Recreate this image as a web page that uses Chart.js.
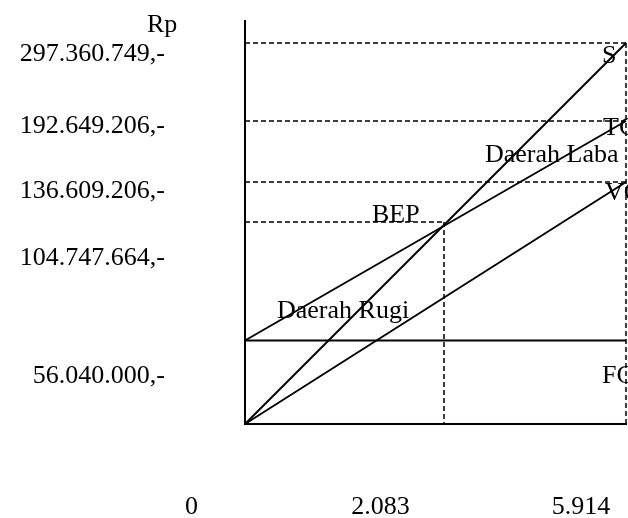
<!DOCTYPE html>
<html lang="id">
<head>
<meta charset="UTF-8">
<title>Grafik BEP</title>
<script src="https://cdn.jsdelivr.net/npm/chart.js"></script>
<style>
    body { margin: 0; background: #fff; }
    canvas { display: block; }
</style>
</head>
<body>
<canvas id="bep" width="628" height="518"></canvas>
<script>
// values
const units = [0, 2083, 5914];                 // origin, BEP units, capacity
const sales = [0, 297360749];                  // S at 0 and at 5914 units
const totalCost = [56040000, 192649206];       // TC
const variableCost = [0, 136609206];           // VC
const fixedCost = [56040000, 56040000];        // FC
const bepValue = 104747664;
const yTickValues = [56040000, 104747664, 136609206, 192649206, 297360749];
const yTickLabels = ['56.040.000,-', '104.747.664,-', '136.609.206,-', '192.649.206,-', '297.360.749,-'];
const xTickLabels = ['0', '2.083', '5.914'];

// the drawing is schematic, not to scale: each value sits at its own spot on the axis
const breaks = {
    x: units,
    y: [0].concat(yTickValues),
    xLab: units,
    yLab: yTickValues
};
const stops = {
    x: [0, 0.5223, 1],
    y: [0, 0.2072, 0.5012, 0.6005, 0.7519, 0.9454],
    xLab: [-0.1404, 0.3556, 0.8819],
    yLab: [0.1186, 0.4122, 0.5777, 0.7390, 0.9169]
};

function interp(v, from, to) {
    let i = 1;
    while (i < from.length - 1 && v > from[i]) i++;
    return to[i - 1] + (v - from[i - 1]) * (to[i] - to[i - 1]) / (from[i] - from[i - 1]);
}

class PiecewiseScale extends Chart.LinearScale {
    getPixelForValue(value) {
        return this.getPixelForDecimal(interp(value, breaks[this.id], stops[this.id]));
    }
    getValueForPixel(pixel) {
        return interp(this.getDecimalForPixel(pixel), stops[this.id], breaks[this.id]);
    }
}
PiecewiseScale.id = 'piecewise';
PiecewiseScale.defaults = Chart.LinearScale.defaults;
Chart.register(PiecewiseScale);

const font = { family: '"Liberation Serif", "Times New Roman", serif', size: 26 };

function seg(x0, y0, x1, y1) {
    return [{ x: x0, y: y0 }, { x: x1, y: y1 }];
}
function solid(label, data) {
    return { label, data, borderColor: '#000', borderWidth: 1.9, pointRadius: 0, fill: false, clip: false };
}
function dashed(data) {
    return { label: '', data, borderColor: '#000', borderWidth: 1.5, borderDash: [5, 3], pointRadius: 0, fill: false, clip: false };
}

const datasets = [
    solid('S', seg(units[0], sales[0], units[2], sales[1])),
    solid('TC', seg(units[0], totalCost[0], units[2], totalCost[1])),
    solid('VC', seg(units[0], variableCost[0], units[2], variableCost[1])),
    solid('FC', seg(units[0], fixedCost[0], units[2], fixedCost[1])),
    dashed(seg(units[0], sales[1], units[2], sales[1])),
    dashed(seg(units[0], totalCost[1], units[2], totalCost[1])),
    dashed(seg(units[0], variableCost[1], units[2], variableCost[1])),
    dashed(seg(units[0], bepValue, units[1], bepValue)),
    dashed(seg(units[1], bepValue, units[1], 0)),
    dashed(seg(units[2], sales[1], units[2], 0))
];

// free text on the drawing
const notes = [
    ['Rp', 147, 32],
    ['S', 602, 63],
    ['TC', 603, 135],
    ['Daerah Laba', 485, 162],
    ['VC', 605, 200],
    ['BEP', 372, 222],
    ['Daerah Rugi', 277, 318],
    ['FC', 602, 383]
];
const notesPlugin = {
    id: 'notes',
    afterDatasetsDraw(chart) {
        const ctx = chart.ctx;
        ctx.save();
        ctx.font = '26px "Liberation Serif"';
        ctx.fillStyle = '#000';
        ctx.textAlign = 'left';
        ctx.textBaseline = 'alphabetic';
        notes.forEach(([t, x, y]) => ctx.fillText(t, x, y));
        ctx.restore();
    }
};

const hidden = { display: false, drawTicks: false };

function draw() {
    new Chart(document.getElementById('bep'), {
        type: 'line',
        data: { datasets },
        plugins: [notesPlugin],
        options: {
            responsive: false,
            animation: false,
            events: [],
            layout: { autoPadding: false, padding: { left: 20, right: 2, top: 21, bottom: -5.2 } },
            plugins: { legend: { display: false }, tooltip: { enabled: false } },
            scales: {
                x: {
                    type: 'piecewise', position: 'bottom', weight: 0,
                    grid: hidden, ticks: { display: false },
                    border: { display: true, color: '#000', width: 2 },
                    afterFit: s => { s.height = 68; }      // gap down to the unit labels
                },
                y: {
                    type: 'piecewise', position: 'left', weight: 0,
                    grid: hidden, ticks: { display: false },
                    border: { display: true, color: '#000', width: 2 },
                    afterFit: s => { s.width = 80; }       // gap between Rp labels and axis
                },
                xLab: {
                    type: 'piecewise', axis: 'x', position: 'bottom', weight: 1,
                    grid: hidden, border: { display: false },
                    afterBuildTicks: s => { s.ticks = breaks.xLab.map(v => ({ value: v })); },
                    afterFit: s => { s.height = 31.2; },
                    ticks: {
                        autoSkip: false, maxRotation: 0, padding: 0, color: '#000', font,
                        callback: (v, i) => xTickLabels[i]
                    }
                },
                yLab: {
                    type: 'piecewise', axis: 'y', position: 'left', weight: 1,
                    grid: hidden, border: { display: false },
                    afterBuildTicks: s => { s.ticks = breaks.yLab.map(v => ({ value: v })); },
                    afterFit: s => { s.width = 145; },
                    ticks: {
                        autoSkip: false, padding: 0, color: '#000', font,
                        callback: (v, i) => yTickLabels[i]
                    }
                }
            }
        }
    });
}

if (document.fonts && document.fonts.load) {
    document.fonts.load('26px "Liberation Serif"').then(draw, draw);
} else {
    draw();
}
</script>
</body>
</html>
